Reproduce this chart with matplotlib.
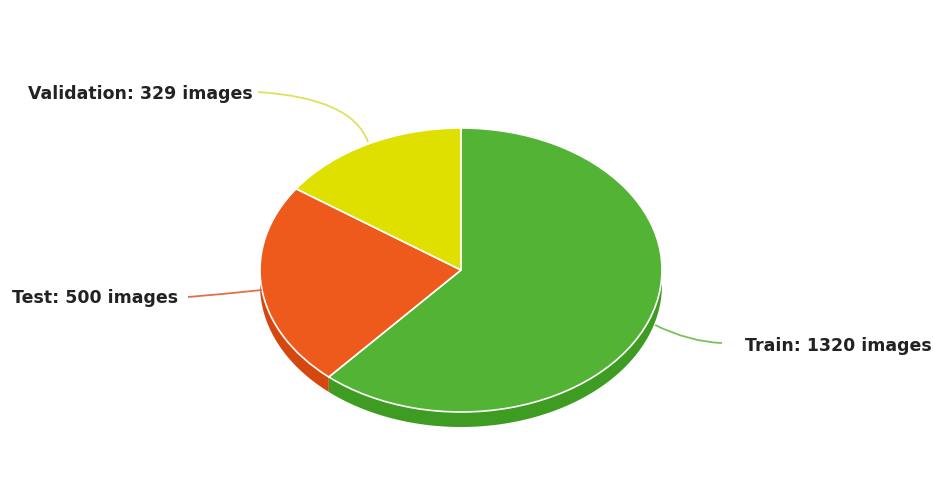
import matplotlib
matplotlib.use("Agg")
import matplotlib.pyplot as plt
import numpy as np
from matplotlib.transforms import Affine2D
from matplotlib.path import Path
from matplotlib.patches import PathPatch, Polygon

labels = ["Train", "Test", "Validation"]
counts = [1320, 500, 329]
top_colors = ["#52b334", "#ee5a1c", "#dfdf00"]
side_colors = ["#3f9c22", "#d4470e", "#c4c400"]
line_colors = ["#7cc05e", "#e0704a", "#e0e060"]

W, H = 933, 504
fig = plt.figure(figsize=(W / 100, H / 100), dpi=100)
ax = fig.add_axes([0, 0, 1, 1])
ax.set_xlim(0, W)
ax.set_ylim(0, H)
ax.axis("off")

cx, cy = 461, 504 - 270
rx, ry = 201, 142
depth = 15
sq = ry / rx

def ell(t):
    # t: degrees clockwise from top
    r = np.radians(t)
    return cx + rx * np.sin(r), cy + ry * np.cos(r)

# side (depth) of the pie
fr = np.array(counts) / np.sum(counts)
bounds = np.concatenate([[0], np.cumsum(fr) * 360])
for i in range(len(counts)):
    a0, a1 = max(bounds[i], 90), min(bounds[i + 1], 270)
    if a1 <= a0:
        continue
    ts = np.linspace(a0, a1, 100)
    xs, ys = ell(ts)
    pts = np.concatenate([np.column_stack([xs, ys]),
                          np.column_stack([xs[::-1], ys[::-1] - depth])])
    ax.add_patch(Polygon(pts, closed=True, facecolor=side_colors[i],
                         edgecolor="none", zorder=1))

# top face through ax.pie, squashed vertically
wedges, _ = ax.pie(counts, colors=top_colors, startangle=90, counterclock=False,
                   radius=rx, center=(cx, cy), frame=True,
                   wedgeprops=dict(edgecolor="white", linewidth=1.2))
ax.set_xlim(0, W)
ax.set_ylim(0, H)
ax.set_aspect("auto")
ax.axis("off")
tr = Affine2D().translate(-cx, -cy).scale(1, sq).translate(cx, cy) + ax.transData
for w in wedges:
    w.set_transform(tr)
    w.set_zorder(2)

# leader lines (image coords -> y up)
def curve(p0, c, p1, color):
    P = [(p0[0], H - p0[1]), (c[0], H - c[1]), (p1[0], H - p1[1])]
    path = Path(P, [Path.MOVETO, Path.CURVE3, Path.CURVE3])
    ax.add_patch(PathPatch(path, facecolor="none", edgecolor=color, lw=1.3, zorder=3))

curve((258, 92), (352, 98), (368, 142), line_colors[2])
curve((188, 297), (225, 294), (262, 290), line_colors[1])
curve((655, 325), (690, 342), (722, 343), line_colors[0])

font = dict(family=["DejaVu Sans"], fontweight="bold",
            fontsize=12.5, color="#222222", va="center", ha="left")
ax.text(28, H - 94, f"{labels[2]}: {counts[2]} images", **font)
ax.text(12, H - 298, f"{labels[1]}: {counts[1]} images", **font)
ax.text(745, H - 346, f"{labels[0]}: {counts[0]} images", **font)

fig.savefig("out.png", dpi=100)
